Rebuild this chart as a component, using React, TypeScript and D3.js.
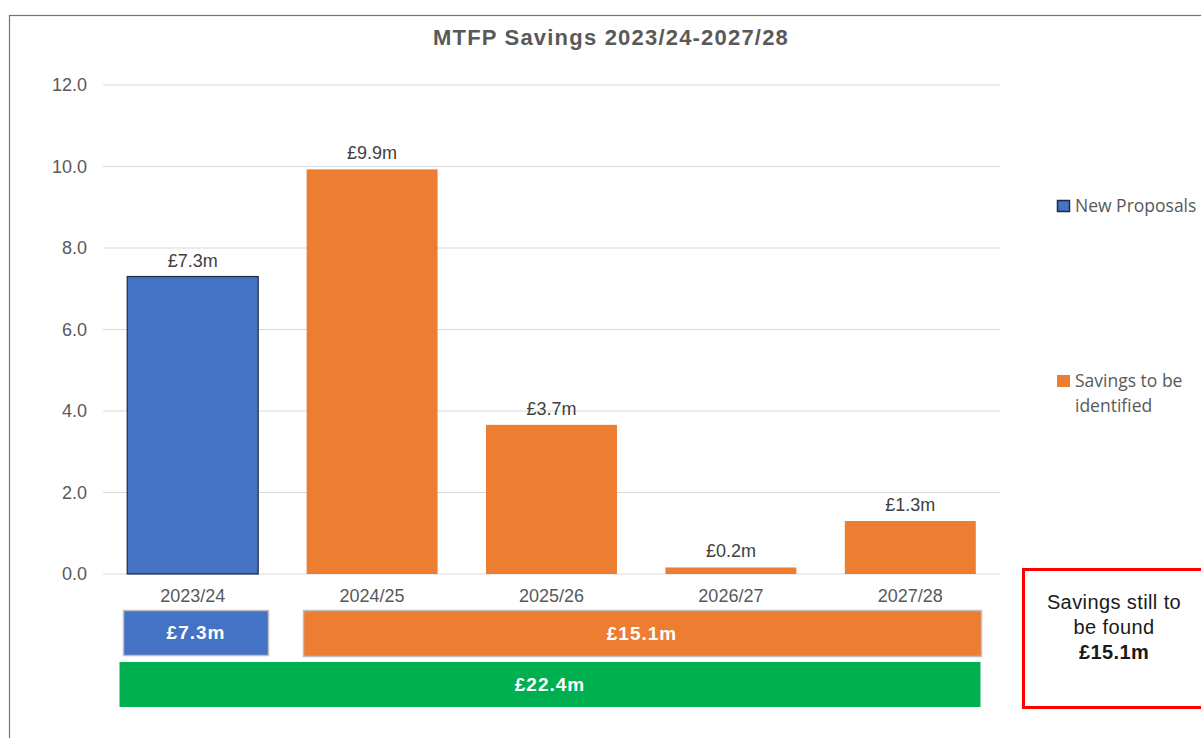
import React from "react";
import * as d3 from "d3";

const categories = ["2023/24", "2024/25", "2025/26", "2026/27", "2027/28"];
const values = [7.3, 9.93, 3.66, 0.16, 1.3];
const seriesOf = ["New Proposals", "Savings to be identified", "Savings to be identified", "Savings to be identified", "Savings to be identified"];
const yTicks = [0, 2, 4, 6, 8, 10, 12];
const seriesNames = ["New Proposals", "Savings to be identified"];
const seriesColors = ["#4472C4", "#ED7D31"];
const summaryNew = 7.3;
const summaryToFind = 15.1;
const summaryTotal = 22.4;

const W = 1201;
const H = 738;
const FONT = "'Liberation Sans', Arial, sans-serif";
const LEGEND_FONT = "'Open Sans', 'Noto Sans', sans-serif";

export default function App() {
  const x = d3.scaleBand<string>().domain(categories).range([103, 1000]).paddingInner(0.27).paddingOuter(0.135);
  const y = d3.scaleLinear().domain([0, 12]).range([574, 85]);
  const color = d3.scaleOrdinal<string, string>().domain(seriesNames).range(seriesColors);
  const fmt = (v: number) => `£${v.toFixed(1)}m`;
  const bandCenter = (c: string) => (x(c) ?? 0) + x.bandwidth() / 2;

  return (
    <svg width={W} height={H} style={{ position: "absolute", left: 0, top: 0, background: "#fff" }}>
      <rect x={9.5} y={15.5} width={W} height={H} fill="#fff" stroke="#747474" strokeWidth={1.2} />
      <text x={611} y={45} textAnchor="middle" fontFamily={FONT} fontWeight="bold" fontSize={22} letterSpacing={1.2} fill="#595959">
        MTFP Savings 2023/24-2027/28
      </text>
      {yTicks.map((t) => (
        <g key={t}>
          <line x1={103} x2={1000} y1={y(t)} y2={y(t)} stroke="#d9d9d9" strokeWidth={1} />
          <text x={87} y={y(t) + 6} textAnchor="end" fontFamily={FONT} fontSize={18} fill="#595959">
            {t.toFixed(1)}
          </text>
        </g>
      ))}
      {categories.map((c, i) => {
        const isNew = seriesOf[i] === "New Proposals";
        return (
          <g key={c}>
            <rect
              x={x(c)}
              y={y(values[i])}
              width={x.bandwidth()}
              height={y(0) - y(values[i])}
              fill={color(seriesOf[i])}
              stroke={isNew ? "#1c2a44" : "none"}
              strokeWidth={1.2}
            />
            <text x={bandCenter(c)} y={y(values[i]) - 10} textAnchor="middle" fontFamily={FONT} fontSize={18} fill="#404040">
              {fmt(values[i])}
            </text>
            <text x={bandCenter(c)} y={602} textAnchor="middle" fontFamily={FONT} fontSize={18} fill="#595959">
              {c}
            </text>
          </g>
        );
      })}
      {/* summary boxes */}
      <rect x={123.5} y={610.5} width={145} height={45} fill="#4472C4" stroke="#bfbfbf" strokeWidth={1.5} />
      <text x={196} y={639} textAnchor="middle" fontFamily={FONT} fontWeight="bold" fontSize={19} letterSpacing={1} fill="#fff">
        {fmt(summaryNew)}
      </text>
      <rect x={303.5} y={610.5} width={678} height={46} fill="#ED7D31" stroke="#bfbfbf" strokeWidth={1.5} />
      <text x={642} y={640} textAnchor="middle" fontFamily={FONT} fontWeight="bold" fontSize={19} letterSpacing={1} fill="#fff">
        {fmt(summaryToFind)}
      </text>
      <rect x={119.5} y={662} width={861} height={45} fill="#00B050" />
      <text x={550} y={691} textAnchor="middle" fontFamily={FONT} fontWeight="bold" fontSize={19} letterSpacing={1} fill="#fff">
        {fmt(summaryTotal)}
      </text>
      {/* red callout */}
      <rect x={1023.5} y={569.5} width={200} height={138} fill="#fff" stroke="#ff0000" strokeWidth={3} />
      <text textAnchor="middle" fontFamily={FONT} fontSize={20} letterSpacing={0.4} fill="#1a1a1a">
        <tspan x={1114} y={609}>Savings still to</tspan>
        <tspan x={1114} y={634}>be found</tspan>
        <tspan x={1114} y={659} fontWeight="bold">{fmt(summaryToFind)}</tspan>
      </text>
      {/* legend */}
      <rect x={1057.5} y={200.5} width={12} height={11} fill={color(seriesNames[0])} stroke="#1c2a44" strokeWidth={1.5} />
      <text x={1075} y={212} fontFamily={LEGEND_FONT} fontSize={17.5} fill="#595959">
        {seriesNames[0]}
      </text>
      <rect x={1057} y={375} width={13} height={12} fill={color(seriesNames[1])} />
      <text fontFamily={LEGEND_FONT} fontSize={17.5} fill="#595959">
        <tspan x={1075} y={387}>Savings to be</tspan>
        <tspan x={1075} y={412}>identified</tspan>
      </text>
    </svg>
  );
}
